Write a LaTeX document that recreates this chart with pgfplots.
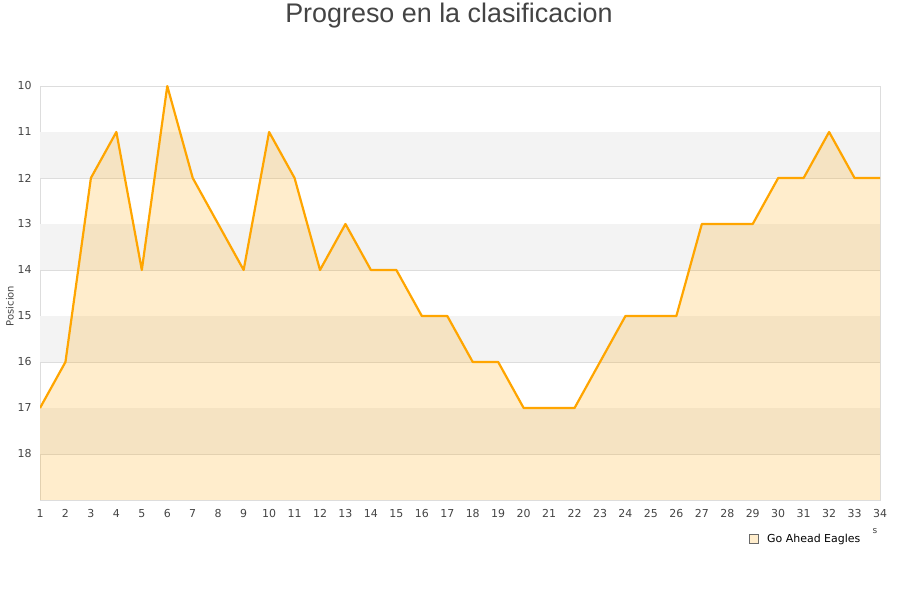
\documentclass[border=0pt]{standalone}
\usepackage{pgfplots}
\pgfplotsset{compat=1.18}
\usepackage{fontspec}
\setmainfont{DejaVu Sans}
\newfontfamily\titlefont{Liberation Sans}
\definecolor{txt}{HTML}{444444}
\definecolor{gridc}{HTML}{DDDDDD}
\definecolor{band}{HTML}{F3F3F3}
\definecolor{lineo}{HTML}{FFA500}
\begin{document}
\begin{tikzpicture}[x=1bp,y=1bp]
\path[use as bounding box] (0,0) rectangle (900,600);
\node[text=txt,font=\titlefont\fontsize{27}{30}\selectfont] at (449,584) {Progreso en la clasificacion};
\node[text=txt,font=\fontsize{10}{12}\selectfont, rotate=90] at (10,294) {Posicion};
\begin{axis}[
  at={(40bp,100bp)}, anchor=south west,
  width=840bp, height=414bp, scale only axis,
  xmin=1, xmax=34, ymin=10, ymax=19, y dir=reverse,
  xtick={1,...,34}, ytick={10,...,18},
  major tick length=0pt,
  ymajorgrids, grid style={gridc, line width=0.8pt},
  axis line style={gridc, line width=0.8pt},
  tick label style={text=txt, font=\fontsize{11}{13}\selectfont},
  /pgf/number format/assume math mode=true,
  yticklabel style={xshift=-5bp},
  xticklabel style={yshift=-6bp},
  clip=true,
]
\addplot[fill=band, draw=none] coordinates {(1,11.01)(34,11.01)(34,11.99)(1,11.99)};
\addplot[fill=band, draw=none] coordinates {(1,13.01)(34,13.01)(34,13.99)(1,13.99)};
\addplot[fill=band, draw=none] coordinates {(1,15.01)(34,15.01)(34,15.99)(1,15.99)};
\addplot[fill=band, draw=none] coordinates {(1,17.01)(34,17.01)(34,17.99)(1,17.99)};
\addplot[fill=lineo, fill opacity=0.2, draw=none] coordinates {
(1,17)(2,16)(3,12)(4,11)(5,14)(6,10)(7,12)(8,13)(9,14)(10,11)(11,12)(12,14)(13,13)(14,14)(15,14)(16,15)(17,15)(18,16)(19,16)(20,17)(21,17)(22,17)(23,16)(24,15)(25,15)(26,15)(27,13)(28,13)(29,13)(30,12)(31,12)(32,11)(33,12)(34,12)(34,19)(1,19)};
\addplot[lineo, line width=2.2bp, line join=round, mark=none] coordinates {
(1,17)(2,16)(3,12)(4,11)(5,14)(6,10)(7,12)(8,13)(9,14)(10,11)(11,12)(12,14)(13,13)(14,14)(15,14)(16,15)(17,15)(18,16)(19,16)(20,17)(21,17)(22,17)(23,16)(24,15)(25,15)(26,15)(27,13)(28,13)(29,13)(30,12)(31,12)(32,11)(33,12)(34,12)};
\end{axis}
\node[text=txt, font=\fontsize{9}{10}\selectfont] at (875,69) {s};
\fill[fill=lineo!20, draw=txt!80, line width=0.5bp] (749,56.5) rectangle (758,65.5);
\node[anchor=west, text=black, font=\fontsize{11}{13}\selectfont, inner sep=0] at (767,61) {Go Ahead Eagles};
\end{tikzpicture}
\end{document}
